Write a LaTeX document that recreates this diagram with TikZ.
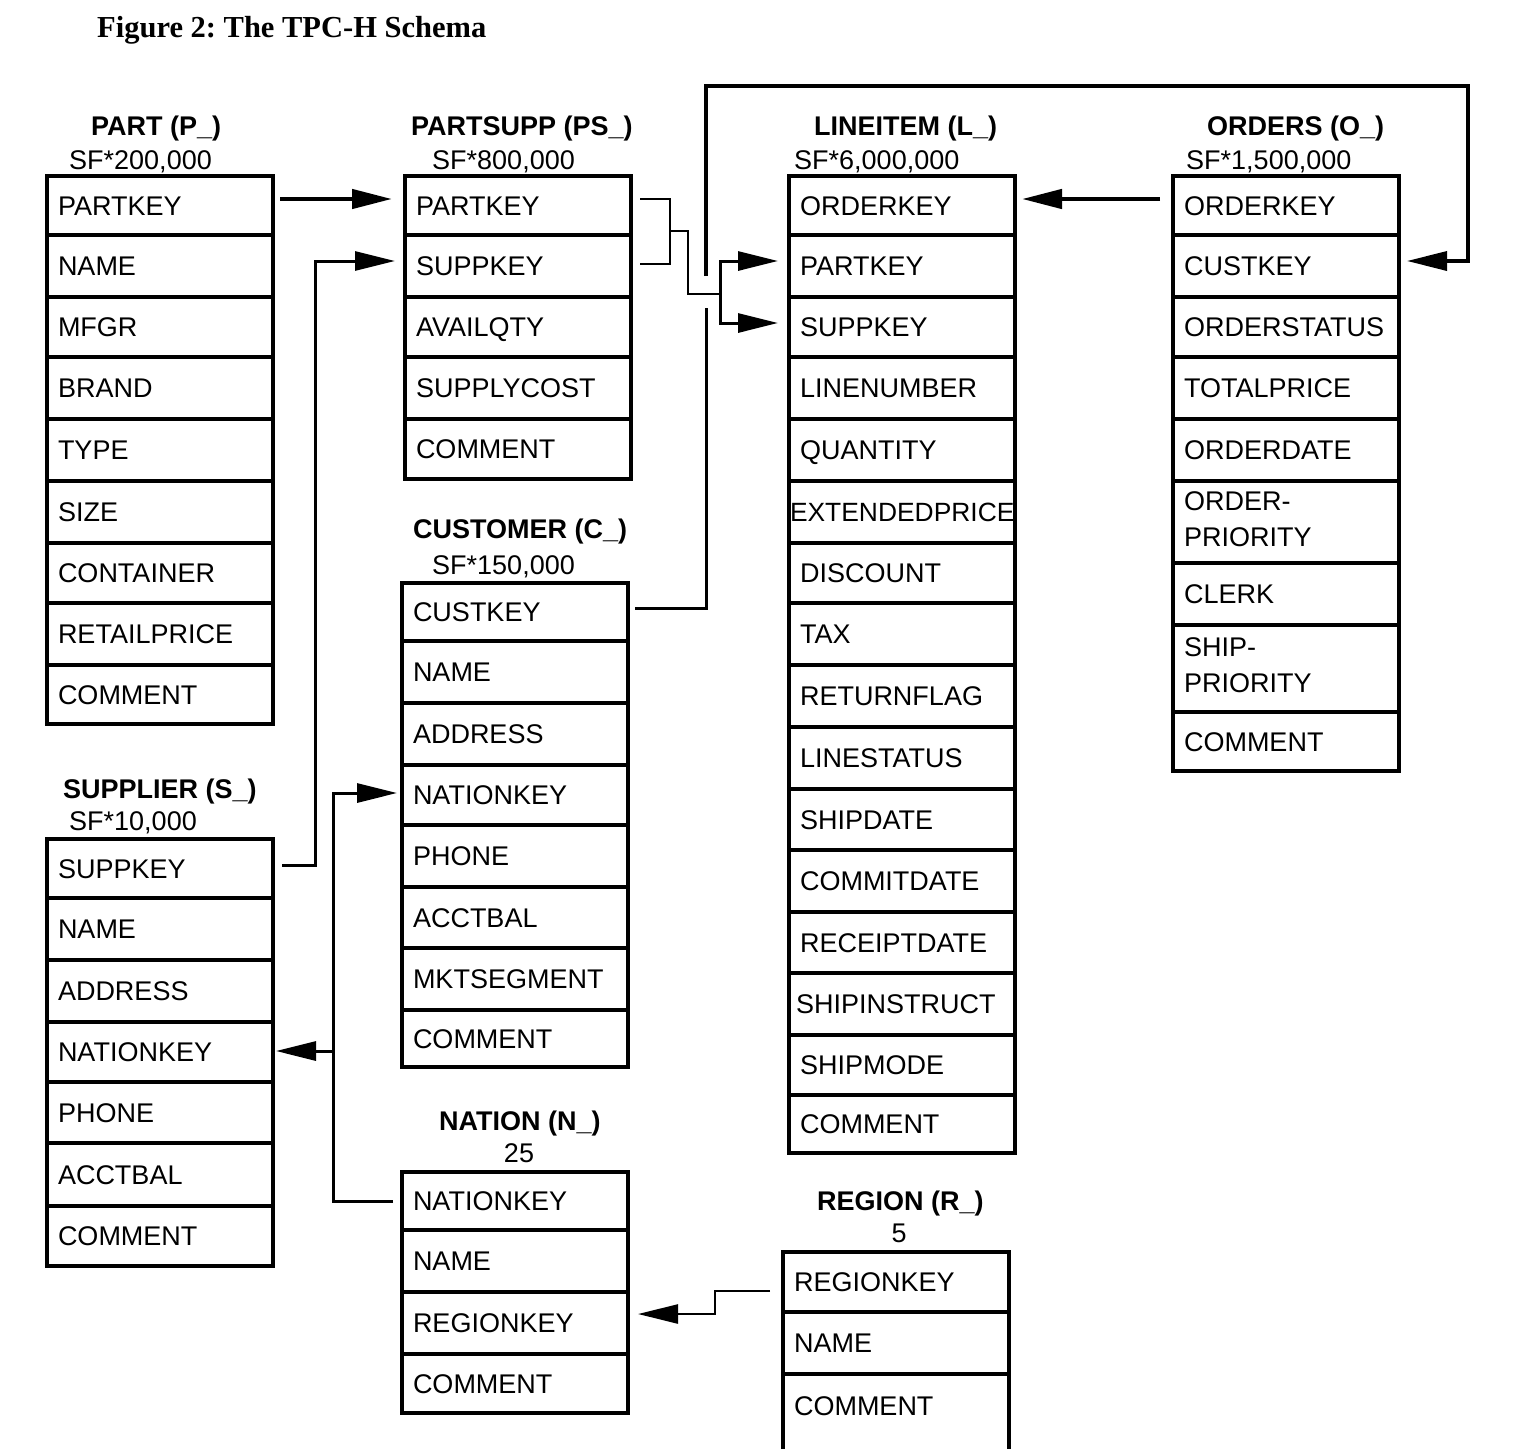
\documentclass[tikz,border=0pt]{standalone}
\usepackage{fontspec}
\setmainfont{Liberation Sans}
\newfontfamily\figtitlefont{Liberation Serif}
\usetikzlibrary{arrows.meta}
\frenchspacing
\tikzset{
  fld/.style={draw, line width=4pt, outer sep=0pt, anchor=north west,
    minimum width=226pt, text width=204pt, align=left, inner xsep=0pt, inner ysep=0pt,
    font=\fontsize{27}{36}\selectfont},
  sl/.style={text height=19.3pt, text depth=0pt},
  tbltitle/.style={anchor=west, inner sep=0pt, text height=19.3pt, text depth=0pt,
    font=\bfseries\fontsize{27}{30}\selectfont},
  sfnote/.style={anchor=west, inner sep=0pt, text height=19.3pt, text depth=0pt,
    font=\fontsize{27}{30}\selectfont},
  tipa/.style={-{Triangle[length=40pt,width=19pt]}},
}
\newcommand\frow[6][]{\node[fld,#1,minimum height={(#5)-(#4)}] (#2) at (#3,#4) {#6};}
\begin{document}
\begin{tikzpicture}[x=1pt,y=-1pt]
\useasboundingbox (0,0) rectangle (1520,1448);

\node[anchor=west, inner sep=0pt, text height=20.2pt, text depth=0pt,
  font=\figtitlefont\bfseries\fontsize{30.5}{34}\selectfont] (fig) at (97,27) {Figure 2: The TPC-H Schema};

% PART
\node[tbltitle] (tpart) at (91,126) {PART (P\_)};
\node[sfnote] (sfpart) at (69,160) {SF*200,000};
\frow[sl]{p1}{47}{176}{235}{PARTKEY}
\frow[sl]{p2}{47}{235}{297}{NAME}
\frow[sl]{p3}{47}{297}{357}{MFGR}
\frow[sl]{p4}{47}{357}{419}{BRAND}
\frow[sl]{p5}{47}{419}{481}{TYPE}
\frow[sl]{p6}{47}{481}{543}{SIZE}
\frow[sl]{p7}{47}{543}{603}{CONTAINER}
\frow[sl]{p8}{47}{603}{665}{RETAILPRICE}
\frow[sl]{p9}{47}{665}{724}{COMMENT}

% PARTSUPP
\node[tbltitle] (tps) at (411,126) {PARTSUPP (PS\_)};
\node[sfnote] (sfps) at (432,160) {SF*800,000};
\frow[sl]{ps1}{405}{176}{235}{PARTKEY}
\frow[sl]{ps2}{405}{235}{297}{SUPPKEY}
\frow[sl]{ps3}{405}{297}{357}{AVAILQTY}
\frow[sl]{ps4}{405}{357}{419}{SUPPLYCOST}
\frow[sl]{ps5}{405}{419}{479}{COMMENT}

% LINEITEM
\node[tbltitle] (tli) at (814,126) {LINEITEM (L\_)};
\node[sfnote] (sfli) at (794,160) {SF*6,000,000};
\frow[sl]{l1}{789}{176}{235}{ORDERKEY}
\frow[sl]{l2}{789}{235}{297}{PARTKEY}
\frow[sl]{l3}{789}{297}{357}{SUPPKEY}
\frow[sl]{l4}{789}{357}{419}{LINENUMBER}
\frow[sl]{l5}{789}{419}{481}{QUANTITY}
\frow[sl,text width=224pt,font=\fontsize{26.4}{36}\selectfont]{l6}{789}{481}{543}{EXTENDEDPRICE}
\frow[sl]{l7}{789}{543}{603}{DISCOUNT}
\frow[sl]{l8}{789}{603}{665}{TAX}
\frow[sl]{l9}{789}{665}{727}{RETURNFLAG}
\frow[sl]{l10}{789}{727}{789}{LINESTATUS}
\frow[sl]{l11}{789}{789}{850}{SHIPDATE}
\frow[sl]{l12}{789}{850}{912}{COMMITDATE}
\frow[sl]{l13}{789}{912}{973}{RECEIPTDATE}
\frow[sl,text width=212pt]{l14}{789}{973}{1035}{SHIPINSTRUCT}
\frow[sl]{l15}{789}{1035}{1095}{SHIPMODE}
\frow[sl]{l16}{789}{1095}{1153}{COMMENT}

% ORDERS
\node[tbltitle] (tor) at (1207,126) {ORDERS (O\_)};
\node[sfnote] (sfor) at (1186,160) {SF*1,500,000};
\frow[sl]{o1}{1173}{176}{235}{ORDERKEY}
\frow[sl]{o2}{1173}{235}{297}{CUSTKEY}
\frow[sl]{o3}{1173}{297}{357}{ORDERSTATUS}
\frow[sl]{o4}{1173}{357}{419}{TOTALPRICE}
\frow[sl]{o5}{1173}{419}{481}{ORDERDATE}
\frow{o6}{1173}{481}{563}{ORDER-\\PRIORITY\rule[-6pt]{0pt}{6pt}}
\frow[sl]{o7}{1173}{563}{625}{CLERK}
\frow{o8}{1173}{625}{712}{SHIP-\\PRIORITY\rule[-6pt]{0pt}{6pt}}
\frow[sl]{o9}{1173}{712}{771}{COMMENT}

% CUSTOMER
\node[tbltitle] (tcu) at (413,529) {CUSTOMER (C\_)};
\node[sfnote] (sfcu) at (432,565) {SF*150,000};
\frow[sl]{c1}{402}{583}{641}{CUSTKEY}
\frow[sl]{c2}{402}{641}{703}{NAME}
\frow[sl]{c3}{402}{703}{765}{ADDRESS}
\frow[sl]{c4}{402}{765}{825}{NATIONKEY}
\frow[sl]{c5}{402}{825}{887}{PHONE}
\frow[sl]{c6}{402}{887}{948}{ACCTBAL}
\frow[sl]{c7}{402}{948}{1010}{MKTSEGMENT}
\frow[sl]{c8}{402}{1010}{1067}{COMMENT}

% SUPPLIER
\node[tbltitle] (tsu) at (63,789) {SUPPLIER (S\_)};
\node[sfnote] (sfsu) at (69,821) {SF*10,000};
\frow[sl]{s1}{47}{839}{898}{SUPPKEY}
\frow[sl]{s2}{47}{898}{960}{NAME}
\frow[sl]{s3}{47}{960}{1022}{ADDRESS}
\frow[sl]{s4}{47}{1022}{1082}{NATIONKEY}
\frow[sl]{s5}{47}{1082}{1143}{PHONE}
\frow[sl]{s6}{47}{1143}{1206}{ACCTBAL}
\frow[sl]{s7}{47}{1206}{1266}{COMMENT}

% NATION
\node[tbltitle] (tna) at (439,1121) {NATION (N\_)};
\node[sfnote,anchor=center] (sfna) at (519,1153) {25};
\frow[sl]{n1}{402}{1172}{1230}{NATIONKEY}
\frow[sl]{n2}{402}{1230}{1292}{NAME}
\frow[sl]{n3}{402}{1292}{1354}{REGIONKEY}
\frow[sl]{n4}{402}{1354}{1413}{COMMENT}

% REGION
\node[tbltitle] (tre) at (817,1201) {REGION (R\_)};
\node[sfnote,anchor=center] (sfre) at (899,1233) {5};
\frow[sl]{r1}{783}{1252}{1312}{REGIONKEY}
\frow[sl]{r2}{783}{1312}{1374}{NAME}
\node[fld, text height=41pt, text depth=55pt] (r3) at (783,1374) {COMMENT};

% connectors
\draw[line width=4.5pt, tipa] ([shift={(7,-6.5)}]p1.east) -- ([shift={(-13,-6.5)}]ps1.west);
\draw[line width=3pt, tipa] ([shift={(9,-3.5)}]s1.east) -- ++(33,0) |- ([shift={(-10,-5)}]ps2.west);

\coordinate (jb) at (670,231);
\coordinate (jl) at (720,294);
\draw[line width=2.5pt] ([shift={(9,-6.5)}]ps1.east) -- ++(30,0) |- ([shift={(9,-2)}]ps2.east);
\draw[line width=2.5pt] (jb) -- ++(18,0) |- (jl);
\draw[line width=3pt, tipa] (jl) |- ([shift={(-11,-5)}]l2.west);
\draw[line width=3pt, tipa] (jl) |- ([shift={(-11,-4)}]l3.west);

\coordinate (hopb) at (706,308);
\coordinate (hopt) at (706,276);
\draw[line width=3pt] ([shift={(7,-4)}]c1.east) -| (hopb);
\draw[line width=3.5pt, tipa] (hopt) |- (1468,86) |- ([shift={(8,-5)}]o2.east);

\draw[line width=4.5pt, tipa] ([shift={(-13,-6.5)}]o1.west) -- ([shift={(7,-6.5)}]l1.east);

\coordinate (nb) at (333,1051);
\draw[line width=3pt, tipa] ([xshift=-9pt]n1.west) -| (nb) |- ([shift={(-5,-2)}]c4.west);
\draw[line width=3pt, tipa] (nb) -- ([shift={(3,-1)}]s4.east);

\draw[line width=2.5pt, tipa] ([shift={(-13,9)}]r1.west) -- ++(-55,0) |- ([shift={(10,-9)}]n3.east);
\end{tikzpicture}
\end{document}
